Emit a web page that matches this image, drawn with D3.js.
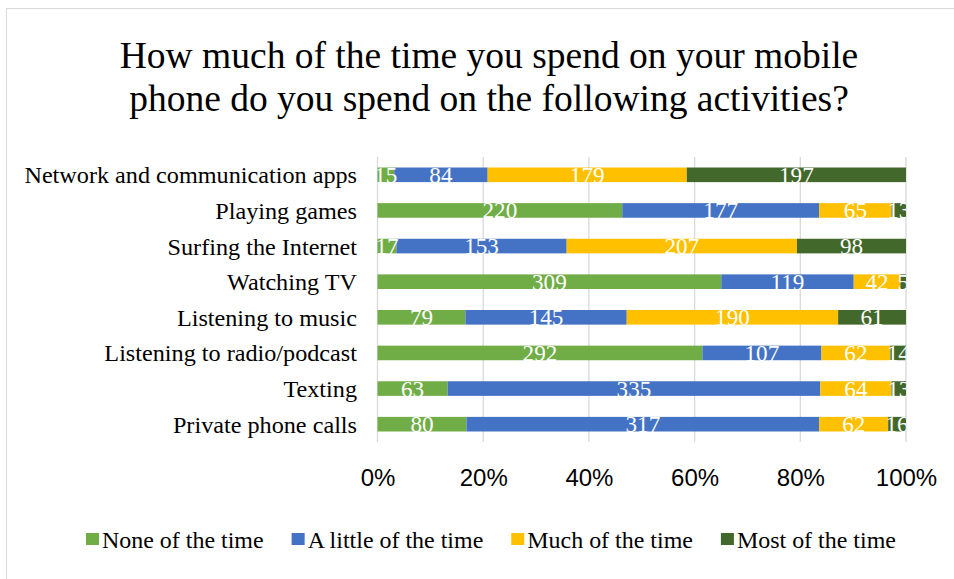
<!DOCTYPE html>
<html>
<head>
<meta charset="utf-8">
<script src="https://cdn.jsdelivr.net/npm/d3@7"></script>
<style>
  html, body { margin: 0; padding: 0; background: #fff; }
  svg { display: block; }
</style>
</head>
<body>
<svg id="chart" width="954" height="579"></svg>
<script>
// Survey answers per activity (counts of respondents)
const categories = [
  "Network and communication apps",
  "Playing games",
  "Surfing the Internet",
  "Watching TV",
  "Listening to music",
  "Listening to radio/podcast",
  "Texting",
  "Private phone calls"
];
const seriesNames = ["None of the time", "A little of the time", "Much of the time", "Most of the time"];
const noneOfTheTime   = [15, 220, 17, 309, 79, 292, 63, 80];
const aLittleOfTheTime = [84, 177, 153, 119, 145, 107, 335, 317];
const muchOfTheTime   = [179, 65, 207, 42, 190, 62, 64, 62];
const mostOfTheTime   = [197, 13, 98, 5, 61, 14, 13, 16];
const tickValues = [0, 0.2, 0.4, 0.6, 0.8, 1];
const titleLines = [
  "How much of the time you spend on your mobile",
  "phone do you spend on the following activities?"
];

const colors = ["#70AD47", "#4472C4", "#FFC000", "#43682B"];
const serif = "'Liberation Serif', 'Times New Roman', serif";
const sans = "'Liberation Sans', Arial, sans-serif";

const rows = categories.map((c, i) => ({
  category: c,
  [seriesNames[0]]: noneOfTheTime[i],
  [seriesNames[1]]: aLittleOfTheTime[i],
  [seriesNames[2]]: muchOfTheTime[i],
  [seriesNames[3]]: mostOfTheTime[i]
}));

const svg = d3.select("#chart");

// chart frame
svg.append("rect")
  .attr("x", 6.5).attr("y", 8.5)
  .attr("width", 1200).attr("height", 1200)
  .attr("fill", "none").attr("stroke", "#D9D9D9").attr("stroke-width", 1);

const plot = { left: 377.5, right: 906, top: 157, bottom: 442 };

const x = d3.scaleLinear().domain([0, 1]).range([plot.left, plot.right]);
const y = d3.scaleBand().domain(categories)
  .range([plot.top, plot.bottom])
  .paddingInner(0.59).paddingOuter(0.295);

// title
svg.append("g").selectAll("text").data(titleLines).join("text")
  .attr("x", 489).attr("y", (d, i) => 68 + i * 43)
  .attr("text-anchor", "middle")
  .attr("font-family", serif).attr("font-size", 37.5)
  .attr("fill", "#000")
  .text(d => d);

// gridlines
svg.append("g").selectAll("line").data(tickValues).join("line")
  .attr("x1", d => x(d)).attr("x2", d => x(d))
  .attr("y1", plot.top).attr("y2", plot.bottom)
  .attr("stroke", "#D9D9D9").attr("stroke-width", 1.3);

// x axis tick labels
const xAxis = d3.axisBottom(x).tickValues(tickValues).tickFormat(d3.format(".0%")).tickSize(0).tickPadding(0);
const axG = svg.append("g").attr("transform", `translate(0,${plot.bottom})`).call(xAxis);
axG.select(".domain").remove();
axG.selectAll("text")
  .attr("font-family", sans).attr("font-size", 24).attr("fill", "#000")
  .attr("dy", null).attr("y", 44);

// category labels
svg.append("g").selectAll("text").data(categories).join("text")
  .attr("text-anchor", "end")
  .attr("fill", "#000")
  .attr("font-family", serif).attr("font-size", 23.5)
  .attr("transform", d => `translate(357,${y(d) + y.bandwidth() / 2 + 8.5}) scale(1.03,1)`)
  .text(d => d);

// stacked bars
const stack = d3.stack().keys(seriesNames).offset(d3.stackOffsetExpand);
const layers = stack(rows);

svg.append("g").selectAll("g").data(layers).join("g")
  .attr("fill", (d, i) => colors[i])
  .selectAll("rect").data(d => d).join("rect")
  .attr("x", d => x(d[0]))
  .attr("width", d => x(d[1]) - x(d[0]))
  .attr("y", d => y(d.data.category))
  .attr("height", y.bandwidth());

// value labels clipped to the plot area
svg.append("clipPath").attr("id", "plotClip")
  .append("rect")
  .attr("x", plot.left).attr("y", plot.top)
  .attr("width", plot.right - plot.left).attr("height", plot.bottom - plot.top);

const labelG = svg.append("g").attr("clip-path", "url(#plotClip)");
layers.forEach((layer) => {
  labelG.append("g").selectAll("text").data(layer).join("text")
    .attr("text-anchor", "middle")
    .attr("fill", "#fff")
    .attr("font-family", serif).attr("font-size", 22.5)
    .attr("transform", d => `translate(${(x(d[0]) + x(d[1])) / 2},${y(d.data.category) + y.bandwidth() / 2 + 8}) scale(1.03,1)`)
    .text(d => d.data[layer.key]);
});

// legend
const legend = svg.append("g");
let lx = 86;
seriesNames.forEach((name, i) => {
  legend.append("rect")
    .attr("x", lx).attr("y", 533).attr("width", 13).attr("height", 12)
    .attr("fill", colors[i]);
  const t = legend.append("text")
    .attr("fill", "#000")
    .attr("font-family", serif).attr("font-size", 23.5)
    .attr("transform", `translate(${lx + 16},548) scale(1.02,1)`)
    .text(name);
  const w = t.node().getComputedTextLength() * 1.02;
  lx += 16 + w + 28;
});
</script>
</body>
</html>
